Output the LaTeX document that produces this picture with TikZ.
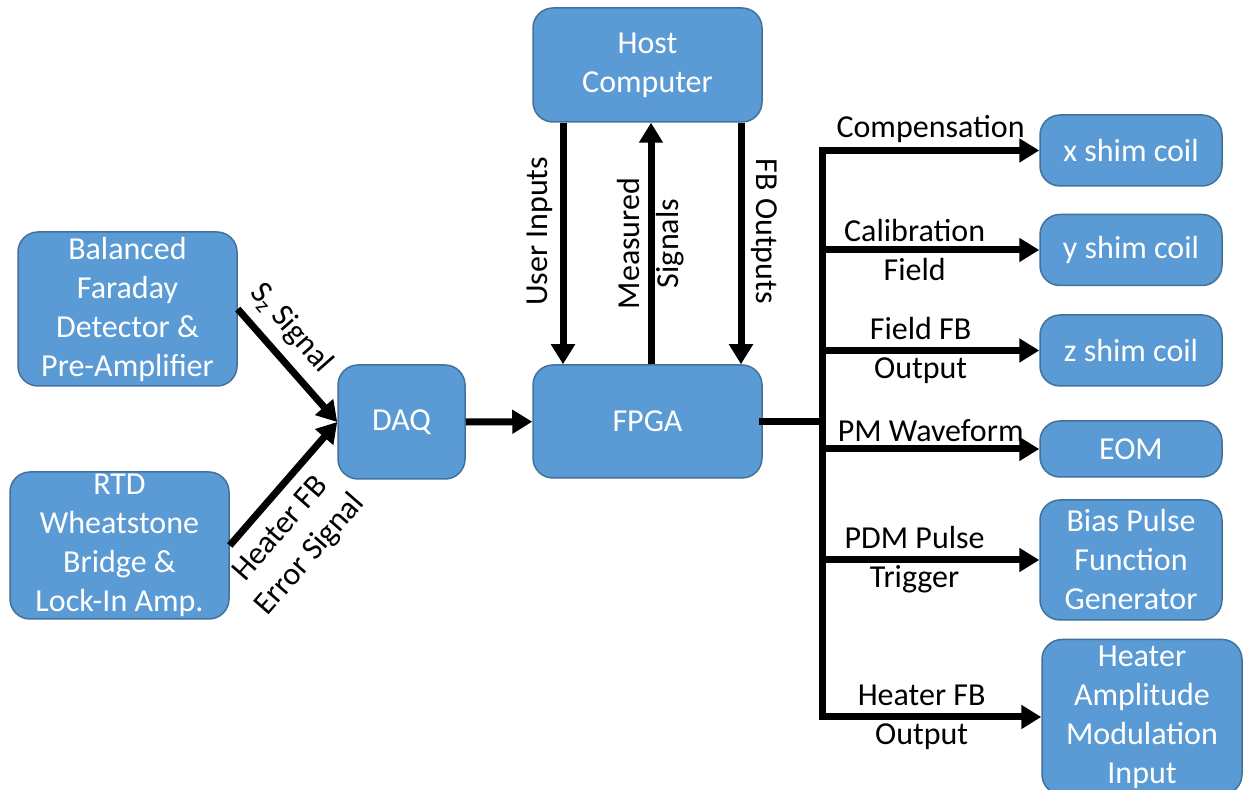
\documentclass[tikz,border=0pt]{standalone}
\usepackage{fontspec}
\setmainfont{Carlito}
\usetikzlibrary{arrows.meta}
\definecolor{boxblue}{HTML}{5B9BD5}
\definecolor{boxedge}{HTML}{41719C}
\tikzstyle{block} = [rectangle, rounded corners=10pt, draw=boxedge, line width=0.75pt, fill=boxblue, text=white, align=center, inner sep=0pt]
\tikzstyle{arrow} = [line width=3.5pt, -{Triangle[length=10pt,width=11.5pt]}]
\tikzstyle{wire} = [line width=3.5pt, line cap=rect]

\begin{document}
\begin{tikzpicture}[x=0.5pt, y=-0.5pt, font=\fontsize{16}{19.5}\selectfont, every node/.append style={align=center}]
\useasboundingbox (0,0) rectangle (1244,790);
\node (host) [block, minimum width=114.5pt, minimum height=57pt] at (647.5,65) {Host\\Computer};
\node (faraday) [block, minimum width=109.5pt, minimum height=77pt] at (127.5,309) {Balanced\\Faraday\\Detector \&\\Pre-Amplifier};
\node (rtd) [block, minimum width=109.5pt, minimum height=73.5pt] at (119.5,545.5) {RTD\\Wheatstone\\Bridge \&\\Lock-In Amp.};
\node (daq) [block, minimum width=63.5pt, minimum height=57pt] at (401.5,422) {DAQ};
\node (fpga) [block, minimum width=114.5pt, minimum height=56.5pt] at (647.5,421.5) {FPGA};
\node (xshim) [block, minimum width=91pt, minimum height=35.5pt] at (1131,150.5) {x shim coil};
\node (yshim) [block, minimum width=91pt, minimum height=35.5pt] at (1131,250) {y shim coil};
\node (zshim) [block, minimum width=91pt, minimum height=35.5pt] at (1131,350.5) {z shim coil};
\node (eom) [block, minimum width=91pt, minimum height=28pt] at (1131,449) {EOM};
\node (bias) [block, minimum width=91pt, minimum height=60pt] at (1131,560) {Bias Pulse\\Function\\Generator};
\node (heater) [block, minimum width=100pt, minimum height=77.5pt] at (1142,717) {Heater\\Amplitude\\Modulation\\Input};
\coordinate (busx) at (822,0);
% inputs to the DAQ
\draw [arrow] (faraday.east) -- node[pos=0.33, sloped, above, inner sep=5pt] {S\textsubscript{z} Signal} (daq.west);
\draw [arrow] (rtd.east) -- node[pos=0.28, sloped, below, inner sep=6pt] {Heater FB\\Error Signal} (daq.west);
\draw [arrow] (daq) -- (fpga);
% host computer link
\draw [arrow] ([xshift=-42.25pt]host.south) -- node[pos=0.45, rotate=90, anchor=south] {User Inputs} ([xshift=-42.25pt]fpga.north);
\draw [arrow] ([xshift=1.75pt]fpga.north) -- node[rotate=90] {Measured\\Signals} ([xshift=1.75pt]host.south);
\draw [arrow] ([xshift=46.75pt]host.south) -- node[pos=0.45, rotate=-90, anchor=south] {FB Outputs} ([xshift=46.75pt]fpga.north);
% output bus
\draw [wire] (fpga.east) -- (fpga.east -| busx);
\draw [wire] (xshim.west -| busx) -- (heater.west -| busx);
\draw [arrow] (xshim.west -| busx) -- node[above, inner sep=2pt] {Compensation} (xshim.west);
\draw [arrow] (yshim.west -| busx) -- node[xshift=-8pt] {Calibration\\Field} (yshim.west);
\draw [arrow] (zshim.west -| busx) -- node[xshift=-5pt] {Field FB\\Output} (zshim.west);
\draw [arrow] (eom.west -| busx) -- node[above, inner sep=2pt] {PM Waveform} (eom.west);
\draw [arrow] (bias.west -| busx) -- node[xshift=-8pt] {PDM Pulse\\Trigger} (bias.west);
\draw [arrow] (heater.west -| busx) -- node[xshift=-5pt] {Heater FB\\Output} (heater.west);
\end{tikzpicture}
\end{document}
